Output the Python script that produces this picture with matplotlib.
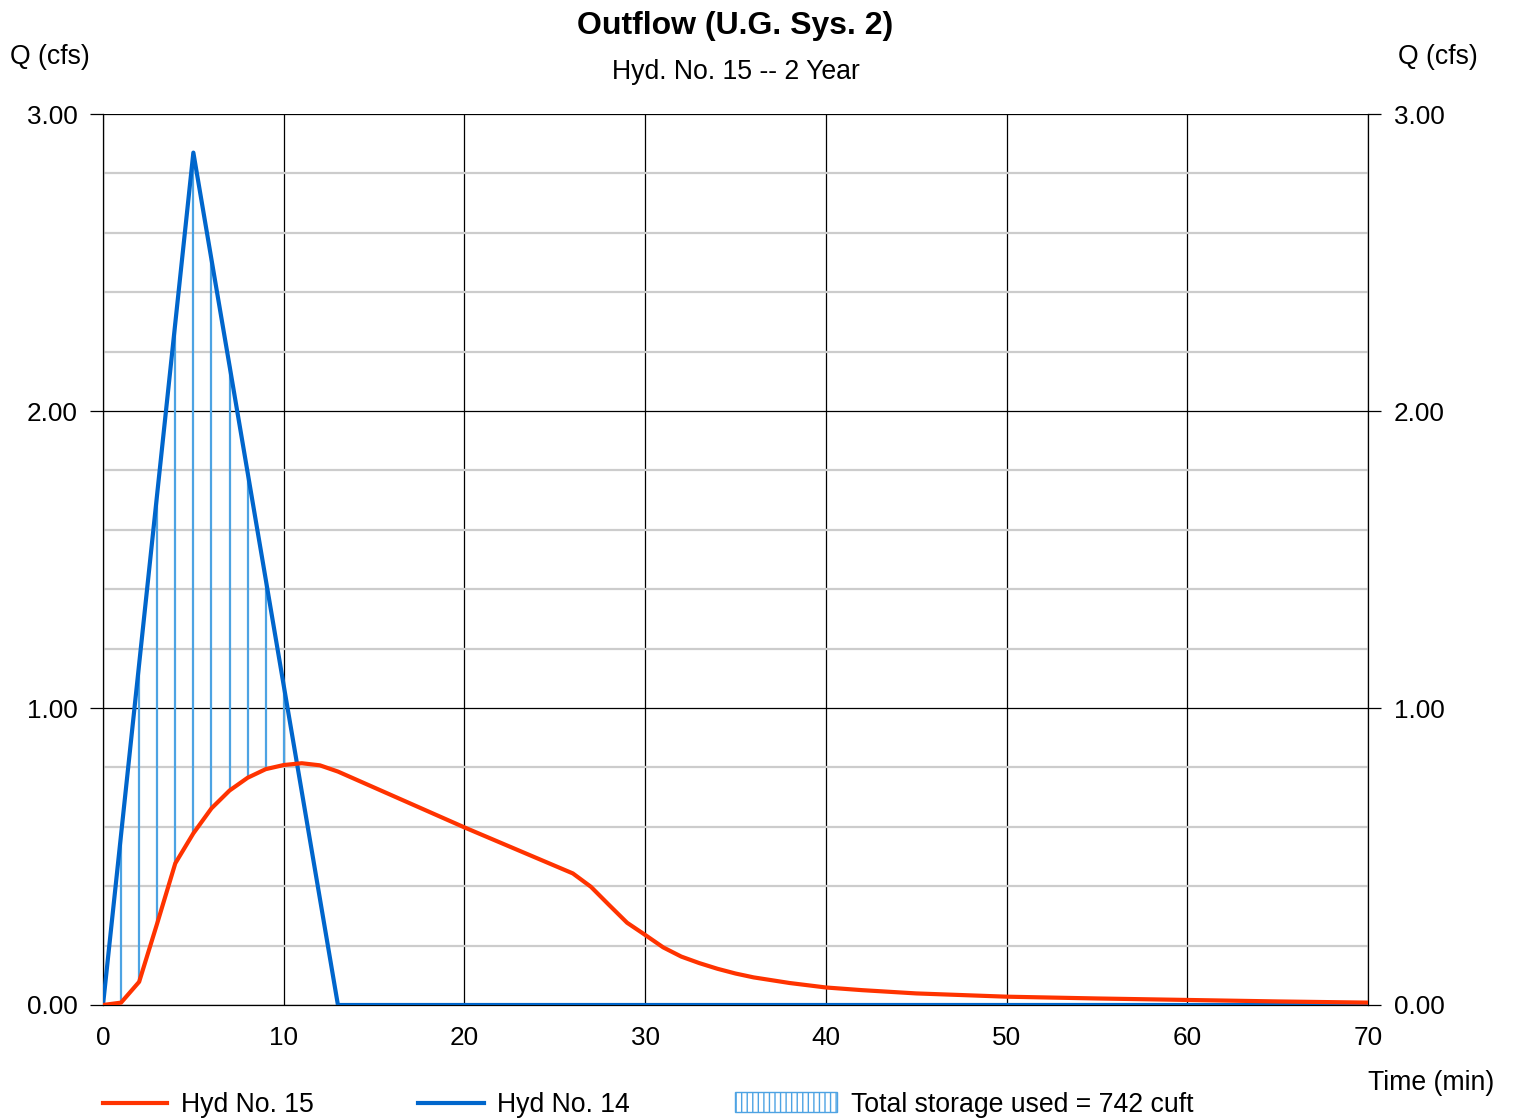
import matplotlib.pyplot as plt
import numpy as np
from matplotlib.lines import Line2D
from matplotlib.patches import Rectangle

plt.rcParams['font.family'] = ['Liberation Sans', 'DejaVu Sans']
plt.rcParams['hatch.linewidth'] = 1.0

# Hyd No. 14 (inflow), cfs
t_in = [0, 1, 2, 3, 4, 5, 6, 7, 8, 9, 10, 11, 12, 13, 70]
q_in = [0, 0.574, 1.148, 1.722, 2.296, 2.870, 2.511, 2.153, 1.794,
        1.435, 1.076, 0.718, 0.359, 0, 0]

# Hyd No. 15 (outflow), cfs
t_out = [0, 1, 2, 3, 4, 5, 6, 7, 8, 9, 10, 11, 12, 13, 20, 26, 27, 28, 29,
         30, 31, 32, 33, 34, 35, 36, 38, 40, 42, 45, 50, 55, 60, 65, 70]
q_out = [0, 0.008, 0.078, 0.275, 0.477, 0.578, 0.662, 0.722, 0.765, 0.794,
         0.808, 0.814, 0.807, 0.786, 0.598, 0.443, 0.398, 0.337, 0.277,
         0.236, 0.194, 0.163, 0.141, 0.122, 0.106, 0.093, 0.074, 0.059,
         0.050, 0.039, 0.028, 0.022, 0.017, 0.012, 0.008]

x_ticks = [0, 10, 20, 30, 40, 50, 60, 70]
y_ticks = [0, 1, 2, 3]

ORANGE = '#FF3300'
BLUE = '#0066CC'
HATCH = '#4DA3E3'
FS = 19.2

W, H = 1514, 1118
fig = plt.figure(figsize=(W / 100, H / 100), dpi=100)
ax = fig.add_axes([103 / W, 113 / H, 1265 / W, 891 / H])

# storage hatch: vertical lines each minute where inflow > outflow
t_h = np.arange(1, 13)
in_h = np.interp(t_h, t_in, q_in)
out_h = np.interp(t_h, t_out, q_out)
m = in_h > out_h
ax.vlines(t_h[m], out_h[m], in_h[m], color=HATCH, lw=1.6, zorder=2)

ax.plot(t_out, q_out, color=ORANGE, lw=3, zorder=4, solid_joinstyle='round')
ax.plot(t_in, q_in, color=BLUE, lw=3, zorder=3, solid_joinstyle='round')

ax.set_xlim(0, 70)
ax.set_ylim(0, 3)
ax.set_xticks(x_ticks)
ax.set_yticks(y_ticks)
ax.set_yticklabels([f'{v:.2f}' for v in y_ticks])
ax.set_yticks(np.arange(0, 3.01, 0.2), minor=True)

ax.grid(which='major', color='black', lw=0.9, zorder=1)
ax.grid(which='minor', axis='y', color='#CCCCCC', lw=1.6, zorder=0)
ax.set_axisbelow(True)

ax.tick_params(axis='y', which='major', left=True, right=True,
               labelleft=True, labelright=True, length=9.5, width=0.9,
               pad=9, labelsize=18.8)
ax.tick_params(axis='y', which='minor', length=0)
ax.tick_params(axis='x', length=0, pad=15, labelsize=18.8)

for s in ax.spines.values():
    s.set_linewidth(0.9)
ax.spines['top'].set_visible(False)

# titles and axis labels
fig.text(735.5 / W, 1 - 26 / H, 'Outflow (U.G. Sys. 2)', ha='center',
         va='center', fontsize=23, fontweight='bold')
fig.text(735.5 / W, 1 - 72 / H, 'Hyd. No. 15 -- 2 Year', ha='center',
         va='center', fontsize=FS)
fig.text(10 / W, 1 - 57 / H, 'Q (cfs)', ha='left', va='center', fontsize=FS)
fig.text(1398 / W, 1 - 57 / H, 'Q (cfs)', ha='left', va='center', fontsize=FS)
fig.text(1368 / W, 1 - 1083 / H, 'Time (min)', ha='left', va='center',
         fontsize=FS)

# legend row
ly = 1 - 1103 / H
ty = 1 - 1105 / H
fig.add_artist(Line2D([103 / W, 167 / W], [ly, ly], color=ORANGE, lw=3))
fig.text(181 / W, ty, 'Hyd No. 15', va='center', fontsize=FS)
fig.add_artist(Line2D([418 / W, 484 / W], [ly, ly], color=BLUE, lw=3))
fig.text(497 / W, ty, 'Hyd No. 14', va='center', fontsize=FS)
fig.add_artist(Rectangle((735 / W, 1 - 1112 / H), 102 / W, 20 / H,
                         facecolor='white', edgecolor=HATCH, hatch='|||',
                         lw=1.0, transform=fig.transFigure))
fig.text(851 / W, ty, 'Total storage used = 742 cuft', va='center',
         fontsize=FS)

fig.savefig('out.png', dpi=100)
